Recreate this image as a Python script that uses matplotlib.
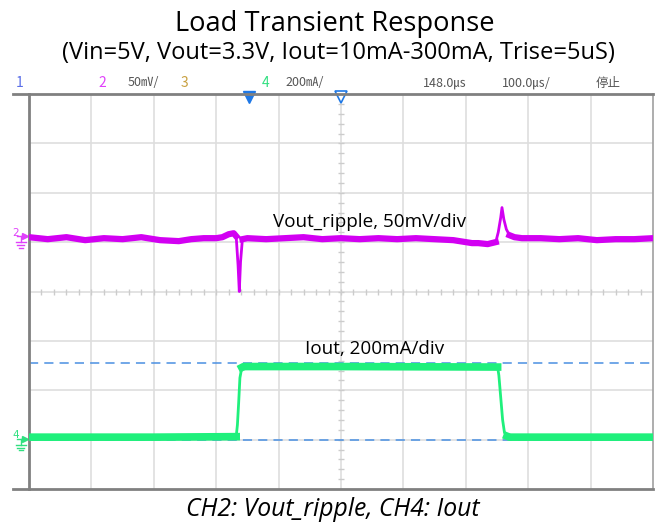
import matplotlib
matplotlib.use("Agg")
import matplotlib.pyplot as plt

# scope settings
time_per_div = 100.0   # us/div
ch2_scale = 50.0       # mV/div
ch4_scale = 200.0      # mA/div
ch2_offset = 1.1       # div
ch4_offset = -3.0      # div

# CH2: Vout ripple (mV), time in us
vout_t = [0, 30, 60, 90, 120, 150, 180, 210, 240, 260, 280, 300, 310, 320, 328,
          332, 335, 337, 339, 342, 350, 380, 410, 440, 470, 500, 530, 560, 590,
          620, 650, 680, 710, 720, 735, 748, 752, 756, 758, 761, 765, 770, 778,
          790, 820, 850, 880, 910, 940, 970, 1000]
vout_mv = [0, -2, 0, -3, -1, -2, 0, -3, -4, -2, -1, -1, 0, 3, 4,
           1, -28, -55, -25, -2, -1, -2, -1, 0, -2, -1, -2, -1, -2,
           -1, -2, -3, -6, -6, -7, -5, 5, 20, 30, 18, 8, 2, 0,
           -1, -1, -2, -1, -3, -2, -2, -1]

# CH4: Iout (mA)
iout_t = [0, 200, 332, 334, 336, 338, 341, 344, 500, 751, 753, 756, 759, 762, 766, 770, 1000]
iout_ma = [10, 10, 12, 60, 150, 250, 292, 296, 296, 294, 260, 170, 80, 28, 14, 10, 10]

# cursors (mA)
cursor_ma = [0, 312]

header = [("1", 20, "#5a6ee8", 10), ("2", 102, "#e040fb", 10), ("50\u33b7/", 143, "#555555", 9),
          ("3", 184, "#c8a040", 10), ("4", 266, "#30e080", 10), ("200\u3383/", 305, "#555555", 9),
          ("148.0\u33b2", 445, "#555555", 9), ("100.0\u33b2/", 526, "#555555", 9),
          ("停止", 608, "#555555", 9)]

W, H = 659, 525
fig = plt.figure(figsize=(W / 100, H / 100), dpi=100)
ax = fig.add_axes([29 / W, 1 - 489 / H, 624 / W, 395 / H])
ax.set_xlim(0, 10)
ax.set_ylim(-4, 4)
ax.set_xticks([])
ax.set_yticks([])

txt_font = ["Open Sans", "DejaVu Sans"]

# grid
for i in range(1, 10):
    ax.axvline(i, color="#dedede", lw=1.2, zorder=0)
for j in range(-3, 4):
    ax.axhline(j, color="#dedede", lw=1.2, zorder=0)
minor_x = [k * 0.2 for k in range(1, 50)]
minor_y = [k * 0.2 for k in range(-19, 20)]
ax.plot(minor_x, [0] * len(minor_x), ls="none", marker="|", ms=4, color="#cccccc", zorder=0)
ax.plot([5] * len(minor_y), minor_y, ls="none", marker="_", ms=4, color="#cccccc", zorder=0)

for sp in ["top", "bottom"]:
    ax.spines[sp].set_visible(False)
ax.spines["left"].set_color("#808080")
ax.spines["left"].set_linewidth(2)
ax.spines["right"].set_color("#a0a0a0")
ax.spines["right"].set_linewidth(1.2)
# top/bottom frame lines extend to the left of the plot
for yy in [94, 489]:
    fig.add_artist(plt.Line2D([13 / W, 653 / W], [1 - yy / H, 1 - yy / H],
                              color="#808080", lw=2))

# cursors
for c in cursor_ma:
    ax.axhline(ch4_offset + c / ch4_scale, color="#4a90e2", lw=1.1, ls=(0, (6, 4)), zorder=1)

# traces: thin core plus a wider noisy band on the flat parts
vx = [t / time_per_div for t in vout_t]
vy = [ch2_offset + v / ch2_scale for v in vout_mv]
ax.plot(vx, vy, color="#d200f2", lw=2, zorder=3)
ax.plot(vx[:16], vy[:16], color="#d200f2", lw=4.5, zorder=3)
ax.plot(vx[19:36], vy[19:36], color="#d200f2", lw=4.5, zorder=3)
ax.plot(vx[41:], vy[41:], color="#d200f2", lw=4.5, zorder=3)

ix = [t / time_per_div for t in iout_t]
iy = [ch4_offset + i / ch4_scale for i in iout_ma]
ax.plot(ix, iy, color="#1ff07c", lw=2, zorder=3)
ax.plot(ix[:3], iy[:3], color="#1ff07c", lw=5.5, zorder=3)
ax.plot(ix[6:10], iy[6:10], color="#1ff07c", lw=5.5, zorder=3)
ax.plot(ix[14:], iy[14:], color="#1ff07c", lw=5.5, zorder=3)

# trigger markers
ax.plot([3.53], [3.93], marker="v", ms=8, color="#1e78e6", clip_on=False, zorder=5)
ax.plot([5.0], [3.93], marker="v", ms=8, mfc="white", mec="#1e78e6", mew=1.2,
        clip_on=False, zorder=5)

# channel ground markers
for lab, off, col in [("2", ch2_offset, "#e040fb"), ("4", ch4_offset, "#30e080")]:
    ax.text(-0.22, off + 0.09, lab, color=col, fontsize=7.5, ha="center", va="center",
            clip_on=False)
    ax.plot([-0.06], [off + 0.02], marker=">", ms=5, color=col, clip_on=False)
    gx = -0.13
    ax.plot([gx - 0.06, gx + 0.05], [off + 0.02, off + 0.02], color=col, lw=1, clip_on=False)
    ax.plot([gx, gx], [off + 0.02, off - 0.1], color=col, lw=1, clip_on=False)
    for k, w in enumerate([0.08, 0.055, 0.03]):
        yk = off - 0.1 - 0.06 * k
        ax.plot([gx - w, gx + w], [yk, yk], color=col, lw=1, clip_on=False)

# labels
ax.text(5.46, 1.41, "Vout_ripple, 50mV/div", ha="center", va="center", fontsize=13.6,
        family=txt_font)
ax.text(5.53, -1.16, "Iout, 200mA/div", ha="center", va="center", fontsize=13.6,
        family=txt_font)

for s, x, c, fs in header:
    fig.text(x / W, 1 - 83 / H, s, color=c, fontsize=fs, ha="center", va="center",
             family=["Noto Sans CJK SC", "DejaVu Sans"])

fig.text(335 / W, 1 - 24 / H, "Load Transient Response", ha="center", va="center",
         fontsize=19.6, family=txt_font)
fig.text(338 / W, 1 - 53 / H, "(Vin=5V, Vout=3.3V, Iout=10mA-300mA, Trise=5uS)",
         ha="center", va="center", fontsize=17, family=txt_font)
fig.text(333 / W, 1 - 509 / H, "CH2: Vout_ripple, CH4: Iout", ha="center", va="center",
         fontsize=17.8, style="italic", family=txt_font)

fig.savefig("out.png", dpi=100)
